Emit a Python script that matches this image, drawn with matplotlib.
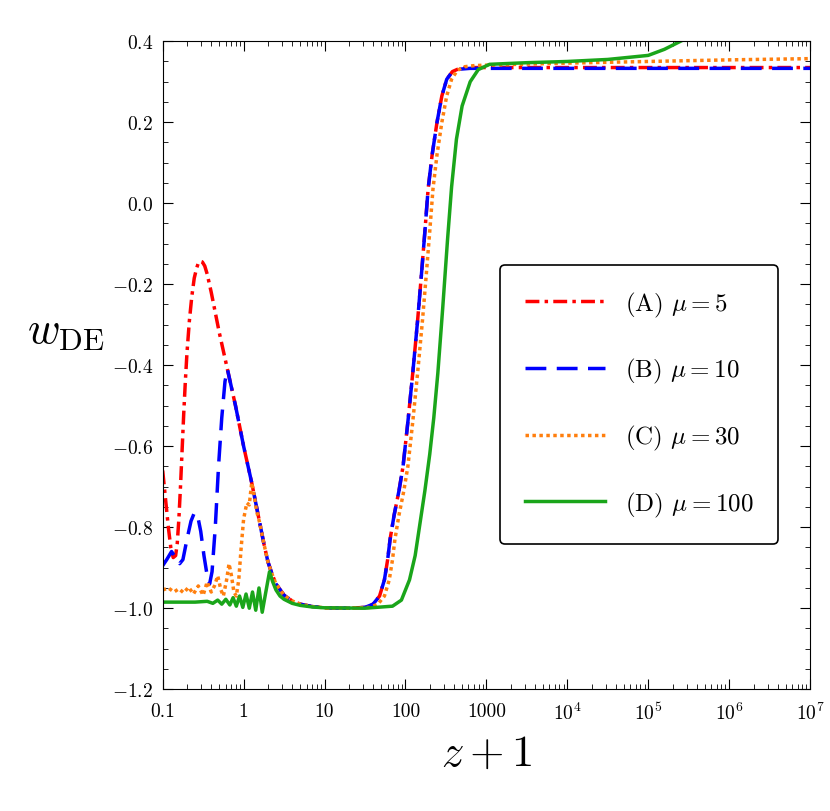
import matplotlib
matplotlib.use("Agg")
import matplotlib.pyplot as plt
from matplotlib.ticker import FixedLocator, MultipleLocator, LogLocator, NullFormatter
import numpy as np

plt.rcParams['mathtext.fontset'] = 'cm'
plt.rcParams['font.family'] = 'serif'
plt.rcParams['font.serif'] = ['cmr10', 'DejaVu Serif']
plt.rcParams['axes.formatter.use_mathtext'] = True

# log10(z+1) and w_DE values
lx_A = [-1, -0.97, -0.93, -0.9, -0.87, -0.84, -0.82, -0.8, -0.78, -0.76, -0.74, -0.72, -0.7, -0.67, -0.64, -0.61, -0.58, -0.56, -0.54, -0.51, -0.48, -0.45, -0.4, -0.35, -0.3, -0.25, -0.2, -0.15, -0.1, -0.05, 0, 0.05, 0.1, 0.15, 0.2, 0.25, 0.3, 0.35, 0.4, 0.5, 0.6, 0.7, 0.85, 1.0, 1.3, 1.5, 1.6, 1.68, 1.74, 1.78, 1.81, 1.86, 1.92, 1.97, 2.03, 2.09, 2.15, 2.2, 2.24, 2.28, 2.33, 2.39, 2.45, 2.51, 2.58, 2.67, 2.8, 7]
w_A = [-0.66, -0.72, -0.8, -0.85, -0.875, -0.87, -0.84, -0.78, -0.7, -0.61, -0.52, -0.44, -0.37, -0.29, -0.23, -0.185, -0.16, -0.148, -0.143, -0.145, -0.155, -0.175, -0.22, -0.27, -0.32, -0.365, -0.41, -0.455, -0.50, -0.55, -0.60, -0.645, -0.69, -0.74, -0.79, -0.84, -0.885, -0.915, -0.94, -0.968, -0.982, -0.99, -0.996, -0.999, -1.0, -0.998, -0.99, -0.97, -0.93, -0.88, -0.83, -0.77, -0.71, -0.65, -0.54, -0.42, -0.29, -0.17, -0.07, 0.035, 0.12, 0.2, 0.265, 0.306, 0.325, 0.333, 0.335, 0.335]

lx_B = [-1, -0.95, -0.89, -0.84, -0.79, -0.75, -0.7, -0.65, -0.61, -0.57, -0.53, -0.49, -0.45, -0.42, -0.39, -0.35, -0.31, -0.27, -0.23, -0.2, -0.15, -0.1, -0.05, 0, 0.05, 0.1, 0.15, 0.2, 0.25, 0.3, 0.35, 0.4, 0.5, 0.6, 0.7, 0.85, 1.0, 1.3, 1.5, 1.6, 1.68, 1.74, 1.78, 1.81, 1.86, 1.92, 1.97, 2.03, 2.09, 2.15, 2.2, 2.24, 2.28, 2.33, 2.39, 2.45, 2.51, 2.58, 2.67, 2.8, 7]
w_B = [-0.895, -0.88, -0.86, -0.875, -0.89, -0.88, -0.83, -0.785, -0.765, -0.77, -0.81, -0.87, -0.92, -0.94, -0.91, -0.80, -0.65, -0.53, -0.44, -0.41, -0.455, -0.50, -0.55, -0.60, -0.645, -0.69, -0.74, -0.79, -0.84, -0.885, -0.915, -0.94, -0.968, -0.982, -0.99, -0.996, -0.999, -1.0, -0.998, -0.99, -0.97, -0.93, -0.88, -0.83, -0.77, -0.71, -0.65, -0.54, -0.42, -0.29, -0.17, -0.07, 0.035, 0.12, 0.2, 0.265, 0.306, 0.325, 0.331, 0.333, 0.333]

lx_C = [-1, -0.93, -0.86, -0.8, -0.74, -0.68, -0.62, -0.56, -0.5, -0.45, -0.4, -0.36, -0.32, -0.28, -0.25, -0.21, -0.18, -0.15, -0.12, -0.09, -0.06, -0.03, 0.0, 0.04, 0.07, 0.1, 0.13, 0.16, 0.2, 0.25, 0.3, 0.35, 0.4, 0.5, 0.6, 0.7, 0.85, 1.0, 1.3, 1.56, 1.66, 1.74, 1.8, 1.84, 1.87, 1.92, 1.98, 2.03, 2.09, 2.15, 2.21, 2.26, 2.3, 2.34, 2.39, 2.45, 2.51, 2.57, 2.64, 2.73, 2.86, 3.2, 4, 5, 6, 7]
w_C = [-0.955, -0.95, -0.96, -0.952, -0.962, -0.948, -0.965, -0.945, -0.968, -0.935, -0.96, -0.945, -0.92, -0.955, -0.97, -0.93, -0.89, -0.92, -0.96, -0.97, -0.93, -0.85, -0.78, -0.74, -0.745, -0.69, -0.72, -0.76, -0.79, -0.84, -0.885, -0.915, -0.94, -0.968, -0.982, -0.99, -0.996, -0.999, -1.0, -0.998, -0.99, -0.97, -0.93, -0.88, -0.83, -0.77, -0.71, -0.65, -0.54, -0.42, -0.29, -0.17, -0.07, 0.035, 0.12, 0.2, 0.265, 0.306, 0.328, 0.337, 0.34, 0.342, 0.346, 0.35, 0.354, 0.357]

lx_D = [-1, -0.6, -0.45, -0.38, -0.32, -0.27, -0.22, -0.17, -0.13, -0.09, -0.05, -0.01, 0.03, 0.07, 0.11, 0.15, 0.19, 0.23, 0.27, 0.32, 0.36, 0.4, 0.45, 0.5, 0.6, 0.7, 0.85, 1.0, 1.5, 1.84, 1.95, 2.05, 2.12, 2.18, 2.24, 2.3, 2.35, 2.4, 2.46, 2.52, 2.57, 2.63, 2.7, 2.8, 2.9, 3.04, 3.5, 4, 4.5, 5, 5.2, 5.4, 5.7, 7]
w_D = [-0.985, -0.985, -0.983, -0.988, -0.98, -0.99, -0.978, -0.992, -0.974, -0.995, -0.97, -0.998, -0.965, -1.0, -0.96, -1.005, -0.95, -1.01, -0.965, -0.91, -0.935, -0.955, -0.97, -0.978, -0.988, -0.993, -0.997, -0.999, -1.0, -0.995, -0.98, -0.93, -0.87, -0.79, -0.71, -0.62, -0.53, -0.42, -0.26, -0.09, 0.04, 0.158, 0.24, 0.30, 0.33, 0.343, 0.347, 0.35, 0.355, 0.365, 0.38, 0.40, 0.43, 0.5]

labels = [r'(A) $\mu=5$', r'(B) $\mu=10$', r'(C) $\mu=30$', r'(D) $\mu=100$']

fig = plt.figure(figsize=(8.3, 8.12), dpi=100)
ax = fig.add_axes([0.196, 0.150, 0.78, 0.798])

ax.plot(10**np.array(lx_A), w_A, color='red', lw=2.5, dashes=(4, 1.5, 1, 1.5), label=labels[0])
ax.plot(10**np.array(lx_B), w_B, color='blue', lw=2.5, dashes=(6, 3), label=labels[1])
ax.plot(10**np.array(lx_C), w_C, color='#ff7f0e', lw=2.5, dashes=(1, 1), label=labels[2])
ax.plot(10**np.array(lx_D), w_D, color='#1aa51a', lw=2.5, label=labels[3])

ax.set_xscale('log')
ax.set_xlim(0.1, 1e7)
ax.set_ylim(-1.2, 0.4)
xt = [0.1, 1, 10, 100, 1000, 1e4, 1e5, 1e6, 1e7]
xl = ['0.1', '1', '10', '100', '1000', r'$10^4$', r'$10^5$', r'$10^6$', r'$10^7$']
ax.xaxis.set_major_locator(FixedLocator(xt))
ax.set_xticklabels(xl)
ax.xaxis.set_minor_locator(LogLocator(base=10, subs=np.arange(2, 10), numticks=20))
ax.xaxis.set_minor_formatter(NullFormatter())
yt = [-1.2, -1.0, -0.8, -0.6, -0.4, -0.2, 0.0, 0.2, 0.4]
ax.yaxis.set_major_locator(FixedLocator(yt))
ax.set_yticklabels([f'${v:.1f}$' for v in yt])
ax.yaxis.set_minor_locator(MultipleLocator(0.05))
ax.tick_params(which='both', direction='in', top=True, right=True, labelsize=14)
ax.tick_params(axis='x', pad=9)
ax.tick_params(axis='y', pad=7)
ax.tick_params(which='major', length=7)
ax.tick_params(which='minor', length=3.5)

ax.set_xlabel(r'$z+1$', fontsize=32, labelpad=8)
ax.set_ylabel(r'$w_{\rm DE}$', fontsize=32, rotation=0)
ax.yaxis.set_label_coords(-0.15, 0.52)

leg = ax.legend(loc='center right', bbox_to_anchor=(0.97, 0.44), fontsize=18, frameon=True,
                fancybox=True, edgecolor='black', framealpha=1, handlelength=3.2,
                labelspacing=1.5, borderpad=1.0)
leg.get_frame().set_linewidth(1.2)

fig.savefig('out.png', dpi=100)
